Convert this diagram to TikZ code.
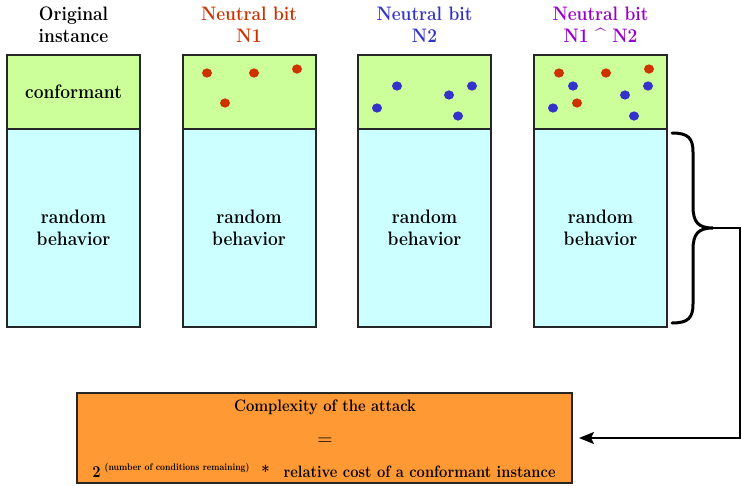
\documentclass[tikz,border=0pt]{standalone}
\usepackage{fontspec}
\setmainfont{Latin Modern Roman}[BoldFeatures={FakeStretch=0.89}]
\usetikzlibrary{arrows.meta}
\definecolor{confgreen}{HTML}{CCFF99}
\definecolor{randcyan}{HTML}{CCFFFF}
\definecolor{attorange}{HTML}{FF9933}
\definecolor{nred}{HTML}{CC3300}
\definecolor{nblue}{HTML}{3333CC}
\definecolor{npurple}{HTML}{9900CC}
\begin{document}
\begin{tikzpicture}[x=1pt,y=-1pt,
  confbox/.style={draw=black!85,line width=2pt,fill=confgreen,minimum width=133pt,minimum height=74pt,inner sep=0pt,font=\fontsize{19.5}{22}\selectfont\bfseries},
  randbox/.style={draw=black!85,line width=2pt,fill=randcyan,minimum width=133pt,minimum height=199pt,inner sep=0pt,align=center,font=\fontsize{19.5}{22}\selectfont\bfseries},
  title/.style={align=center,inner sep=0pt,font=\fontsize{19.5}{22}\selectfont\bfseries},
  rdot/.style={fill=nred,draw=none},
  bdot/.style={fill=nblue,draw=none},
  attbox/.style={draw=black!85,line width=2pt,fill=attorange,minimum width=495pt,minimum height=90pt,inner sep=0pt},
  brace/.style={line width=3pt,line cap=round},
  link/.style={line width=2pt}
]
\useasboundingbox (0,0) rectangle (742,485);

% titles
\node[title] (t1) at (73.5,24.5) {Original\\instance};
\node[title,text=nred] (t2) at (249,24.5) {Neutral bit\\N1};
\node[title,text=nblue] (t3) at (424.5,24.5) {Neutral bit\\N2};
\node[title,text=npurple] (t4) at (600.5,24.5) {Neutral bit\\N1 {\normalfont\fontsize{19.5}{22}\selectfont\^{}} N2};

% boxes
\foreach \i/\cx in {1/73.5,2/249,3/424.5,4/600.5}{
  \node[randbox] (r\i) at (\cx,227.5) {random\\behavior};
}
\node[confbox] (c1) at (73.5,92) {conformant};
\node[confbox] (c2) at (249,92) {};
\node[confbox] (c3) at (424.5,92) {};
\node[confbox] (c4) at (600.5,92) {};

% dots N1
\foreach \dx/\dy in {25/73,72/73,115/69,43/103}{
  \fill[rdot] (182+\dx,\dy) ellipse [x radius=5,y radius=4.6];
  \fill[rdot] (534+\dx,\dy) ellipse [x radius=5,y radius=4.6];
}
% dots N2
\foreach \dx/\dy in {39/86,114/86,91/95,19/108,100/116}{
  \fill[bdot] (358+\dx,\dy) ellipse [x radius=5,y radius=4.6];
  \fill[bdot] (534+\dx,\dy) ellipse [x radius=5,y radius=4.6];
}

% brace
\coordinate (btop) at (672,133);
\coordinate (bbot) at (672,323);
\coordinate (btip) at (713,228);
\draw[brace] (btop) .. controls (688,133) and (693,138) .. (693,152)
  -- (693,206) .. controls (693,222) and (698,228) .. (btip)
  .. controls (698,228) and (693,234) .. (693,250)
  -- (693,304) .. controls (693,318) and (688,323) .. (bbot);

% attack box
\node[attbox] (att) at (324.5,438) {};
\node[font=\fontsize{16.6}{19}\selectfont\bfseries,inner sep=0pt] (cplx) at (325,407) {Complexity of the attack};
\node[font=\fontsize{21}{24}\selectfont,inner sep=0pt] (eq) at (325,442) {=};
\node[anchor=base,inner sep=0pt,font=\fontsize{16.5}{19}\selectfont\bfseries] (form) at (324,477)
  {2\hspace{4pt}\raisebox{7pt}{\fontsize{9.6}{12}\selectfont (number of conditions remaining)}\hspace{12pt}*\hspace{14pt}relative cost of a conformant instance};

% connector
\coordinate (corner1) at (740,228);
\draw[link,-{Stealth[length=15pt,width=12pt,inset=3pt]}] (btip) -- (corner1) |- ([xshift=6pt]att.east);
\end{tikzpicture}
\end{document}
